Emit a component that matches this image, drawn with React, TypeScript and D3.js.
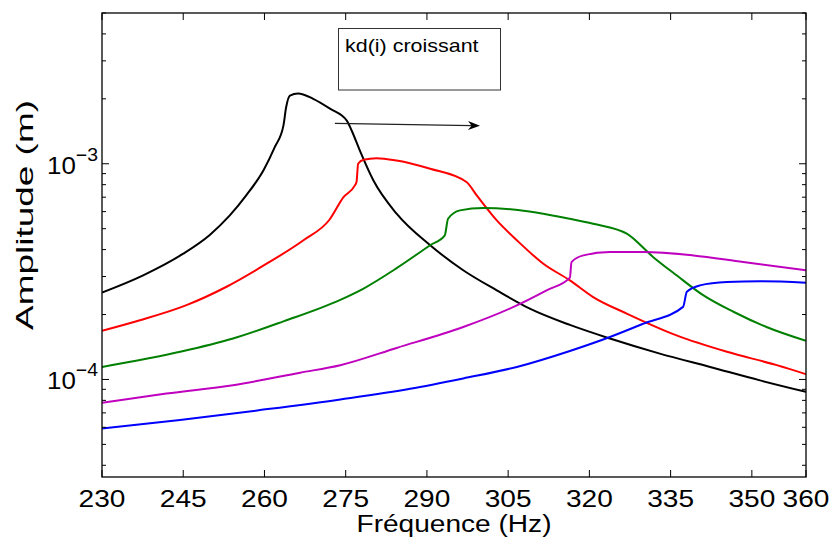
import React from "react";
import * as d3 from "d3";

const W = 830;
const H = 538;
const FONT = "'Liberation Sans', Arial, Helvetica, sans-serif";
const SX = 1.17;

const xTicks = [230, 245, 260, 275, 290, 305, 320, 335, 350, 360];
const yMajor = [1e-4, 1e-3];
const yMajorLabels = ["\u22124", "\u22123"];

const freqBlack = [230, 237.6, 245.0, 249.9, 253.6, 256.7, 259.8, 261.9, 263.5, 264.0, 264.7, 266.2, 269.0, 272.1, 275.2, 276.1, 277.6, 280.1, 284.4, 290.6, 296.7, 302.9, 309.0, 316.4, 323.8, 333.0, 342.3, 351.5, 360];
const ampBlack = [2.53e-4, 3.04e-4, 3.83e-4, 4.68e-4, 5.76e-4, 7.17e-4, 9.31e-4, 1.194e-3, 1.503e-3, 1.827e-3, 2.07e-3, 2.12e-3, 2.0e-3, 1.80e-3, 1.585e-3, 1.426e-3, 1.153e-3, 8.38e-4, 5.87e-4, 4.19e-4, 3.21e-4, 2.59e-4, 2.13e-4, 1.79e-4, 1.548e-4, 1.318e-4, 1.143e-4, 9.9e-5, 8.76e-5];

const freqRed = [230, 237.0, 245.6, 253.0, 260.4, 267.2, 272.0, 274.6, 276.7, 277.0, 277.3, 278.3, 280.7, 284.4, 290.6, 297.3, 299.2, 302.9, 306.6, 311.5, 316.4, 320.7, 326.9, 336.1, 345.4, 354.6, 360];
const ampRed = [1.68e-4, 1.88e-4, 2.21e-4, 2.69e-4, 3.44e-4, 4.42e-4, 5.5e-4, 7.0e-4, 7.94e-4, 8.23e-4, 1.0e-3, 1.043e-3, 1.062e-3, 1.036e-3, 9.48e-4, 8.23e-4, 7.13e-4, 5.46e-4, 4.42e-4, 3.44e-4, 2.88e-4, 2.41e-4, 2.02e-4, 1.60e-4, 1.343e-4, 1.165e-4, 1.058e-4];

const freqGreen = [230, 244.4, 254.2, 263.5, 274.0, 278.3, 284.4, 290.6, 293.3, 293.9, 296.1, 300.4, 305.9, 316.4, 320.7, 326.9, 331.8, 336.1, 341.0, 346.6, 352.7, 360];
const ampGreen = [1.143e-4, 1.343e-4, 1.548e-4, 1.86e-4, 2.34e-4, 2.64e-4, 3.28e-4, 4.19e-4, 4.66e-4, 5.56e-4, 6.08e-4, 6.23e-4, 6.14e-4, 5.56e-4, 5.27e-4, 4.74e-4, 3.69e-4, 3.04e-4, 2.46e-4, 2.06e-4, 1.75e-4, 1.51e-4];

const freqMagenta = [230, 241.9, 254.2, 266.6, 274.0, 284.4, 296.7, 306.0, 312.1, 316.4, 316.7, 318.9, 323.8, 330.0, 339.2, 348.4, 360];
const ampMagenta = [7.80e-5, 8.61e-5, 9.41e-5, 1.075e-4, 1.165e-4, 1.40e-4, 1.75e-4, 2.17e-4, 2.59e-4, 2.965e-4, 3.50e-4, 3.76e-4, 3.90e-4, 3.90e-4, 3.76e-4, 3.50e-4, 3.21e-4];

const freqBlue = [230, 244.4, 259.2, 274.0, 286.9, 296.7, 306.6, 316.4, 323.8, 330.0, 337.3, 338.0, 340.4, 345.4, 351.5, 360];
const ampBlue = [5.93e-5, 6.48e-5, 7.21e-5, 8.08e-5, 9.05e-5, 1.011e-4, 1.143e-4, 1.356e-4, 1.574e-4, 1.816e-4, 2.17e-4, 2.55e-4, 2.73e-4, 2.83e-4, 2.85e-4, 2.81e-4];

const seriesColors = ["#000000", "#ff0000", "#008000", "#bf00bf", "#0000ff"];

const annotationText = "kd(i) croissant";
const arrowFrom = [273.0, 1.54e-3];
const arrowTo = [299.8, 1.5e-3];

const margin = { left: 102, right: 24, top: 13, bottom: 61 };

export default function App() {
  const x0 = margin.left;
  const x1 = W - margin.right;
  const y0 = margin.top;
  const y1 = H - margin.bottom;

  const x = d3.scaleLinear().domain([230, 360]).range([x0, x1]);
  const y = d3.scaleLog().domain([3.53e-5, 5e-3]).range([y1, y0]);

  const line = d3
    .line<[number, number]>()
    .x((d) => x(d[0]))
    .y((d) => y(d[1]))
    .curve(d3.curveMonotoneX);

  const series = [
    [freqBlack, ampBlack],
    [freqRed, ampRed],
    [freqGreen, ampGreen],
    [freqMagenta, ampMagenta],
    [freqBlue, ampBlue],
  ].map(([f, a]) => f.map((v, i) => [v, a[i]] as [number, number]));

  const minorTicks: number[] = [];
  for (let e = -5; e <= -3; e++) {
    for (let m = 2; m <= 9; m++) {
      const v = m * Math.pow(10, e);
      if (v > 3.53e-5 && v <= 5e-3) minorTicks.push(v);
    }
  }

  const ax1 = x(arrowFrom[0]);
  const ay1 = y(arrowFrom[1]);
  const ax2 = x(arrowTo[0]);
  const ay2 = y(arrowTo[1]);
  const ang = Math.atan2(ay2 - ay1, ax2 - ax1);
  const hl = 12;
  const hw = 4.5;
  const headPts = [
    [ax2, ay2],
    [ax2 - hl * Math.cos(ang) + hw * Math.sin(ang), ay2 - hl * Math.sin(ang) - hw * Math.cos(ang)],
    [ax2 - 0.7 * hl * Math.cos(ang), ay2 - 0.7 * hl * Math.sin(ang)],
    [ax2 - hl * Math.cos(ang) - hw * Math.sin(ang), ay2 - hl * Math.sin(ang) + hw * Math.cos(ang)],
  ];

  return (
    <svg
      width={W}
      height={H}
      style={{ position: "absolute", left: 0, top: 0, background: "#fff" }}
      fontFamily={FONT}
    >
      <defs>
        <clipPath id="plotclip">
          <rect x={x0} y={y0} width={x1 - x0} height={y1 - y0} />
        </clipPath>
      </defs>
      <rect x={0} y={0} width={W} height={H} fill="#fff" />

      <g clipPath="url(#plotclip)">
        {series.map((s, i) => (
          <path key={i} d={line(s) || ""} fill="none" stroke={seriesColors[i]} strokeWidth={2} strokeLinejoin="round" />
        ))}
      </g>

      <rect x={x0} y={y0} width={x1 - x0} height={y1 - y0} fill="none" stroke="#000" strokeWidth={1.3} />

      {xTicks.map((t) => (
        <g key={t}>
          <line x1={x(t)} x2={x(t)} y1={y1} y2={y1 - 7} stroke="#000" strokeWidth={1} />
          <line x1={x(t)} x2={x(t)} y1={y0} y2={y0 + 7} stroke="#000" strokeWidth={1} />
          <text
            transform={`translate(${x(t)},${y1 + 30}) scale(${SX},1)`}
            textAnchor="middle"
            fontSize={24}
            fill="#000"
          >
            {t}
          </text>
        </g>
      ))}

      {yMajor.map((t, i) => (
        <g key={t}>
          <line x1={x0} x2={x0 + 7} y1={y(t)} y2={y(t)} stroke="#000" strokeWidth={1} />
          <line x1={x1} x2={x1 - 7} y1={y(t)} y2={y(t)} stroke="#000" strokeWidth={1} />
          <text
            transform={`translate(${x0 - 4},${y(t) + 10}) scale(1.08,1)`}
            textAnchor="end"
            fontSize={24}
            fill="#000"
          >
            10
            <tspan fontSize={18} dy={-13}>
              {yMajorLabels[i]}
            </tspan>
          </text>
        </g>
      ))}
      {minorTicks.map((t) => (
        <g key={t}>
          <line x1={x0} x2={x0 + 4} y1={y(t)} y2={y(t)} stroke="#000" strokeWidth={1} />
          <line x1={x1} x2={x1 - 4} y1={y(t)} y2={y(t)} stroke="#000" strokeWidth={1} />
        </g>
      ))}

      <text
        transform={`translate(${(x0 + x1) / 2},${H - 6}) scale(${SX},1)`}
        textAnchor="middle"
        fontSize={24}
        fill="#000"
      >
        Fréquence (Hz)
      </text>
      <text
        transform={`translate(${33},${215}) rotate(-90)`}
        textAnchor="middle"
        fontSize={24}
        textLength={230}
        lengthAdjust="spacingAndGlyphs"
        fill="#000"
      >
        Amplitude (m)
      </text>

      <rect x={338.5} y={28.5} width={162} height={61.5} fill="#fff" stroke="#333" strokeWidth={1} />
      <text transform={`translate(345,52) scale(1.13,1)`} fontSize={19} fill="#000">
        {annotationText}
      </text>
      <line x1={ax1} y1={ay1} x2={ax2 - 8 * Math.cos(ang)} y2={ay2 - 8 * Math.sin(ang)} stroke="#222" strokeWidth={1.2} />
      <polygon points={headPts.map((p) => p.join(",")).join(" ")} fill="#000" />
    </svg>
  );
}
